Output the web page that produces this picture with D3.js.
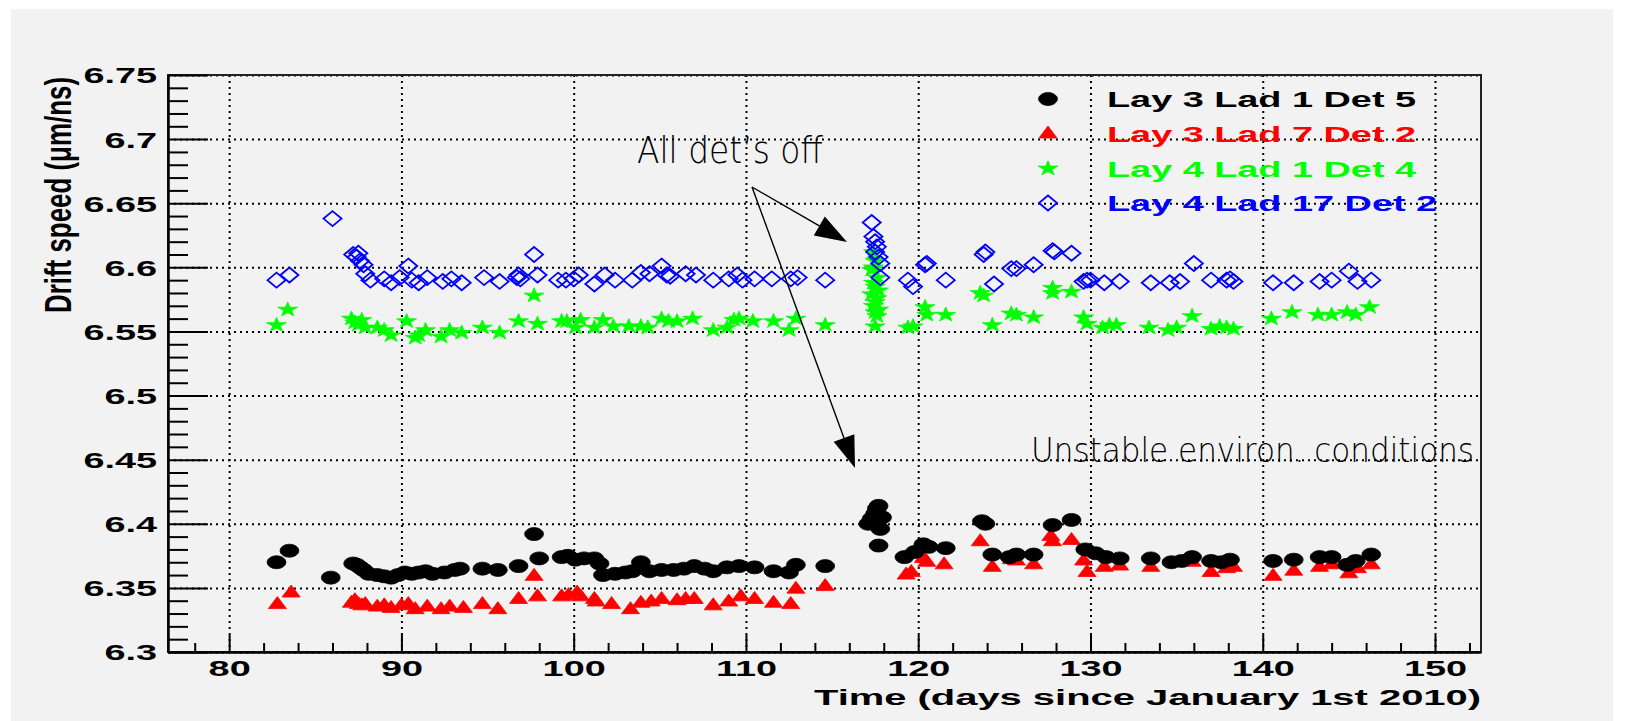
<!DOCTYPE html>
<html>
<head>
<meta charset="utf-8">
<script src="https://cdn.jsdelivr.net/npm/d3@7"></script>
<style>
  body { margin: 0; background: #ffffff; }
  svg text { font-family: "Liberation Sans", Arial, Helvetica, sans-serif; font-weight: bold; }
  .note { font-family: "DejaVu Sans", sans-serif !important; font-weight: 200 !important; }
</style>
</head>
<body>
<div id="scatter"></div>
<script>
// ---- data ----
var xTicks = [80, 90, 100, 110, 120, 130, 140, 150];
var yTicks = [6.3, 6.35, 6.4, 6.45, 6.5, 6.55, 6.6, 6.65, 6.7, 6.75];
var yLabels = ["6.3", "6.35", "6.4", "6.45", "6.5", "6.55", "6.6", "6.65", "6.7", "6.75"];

var seriesNames = ["Lay 3 Lad 1 Det 5", "Lay 3 Lad 7 Det 2", "Lay 4 Lad 1 Det 4", "Lay 4 Lad 17 Det 2"];
var seriesColors = ["#000000", "#ff0000", "#00ff00", "#0000ff"];

var blackDays = [82.75, 83.5, 85.9, 87.2, 87.4, 87.6, 87.8, 88.1, 88.6, 89.0, 89.4, 89.8, 90.2, 90.6, 91.0, 91.4, 91.8, 92.5, 93.1, 93.4,
  94.7, 95.6, 96.8, 97.7, 98.0, 99.3, 99.65, 100.1, 100.6, 101.2, 101.5, 101.7, 102.4, 103.0, 103.4, 103.9, 104.4, 105.1, 105.8, 106.4,
  107.0, 107.6, 108.1, 108.9, 109.6, 110.5, 111.6, 112.5, 112.9, 114.6, 117.1, 117.3, 117.5, 117.6, 117.7, 117.8, 117.9, 117.7,
  119.2, 119.8, 120.3, 120.6, 121.6, 123.7, 123.9, 124.3, 125.3, 125.7, 126.7, 127.8, 128.9, 129.7, 130.3, 130.9, 131.7, 133.5,
  134.7, 135.3, 135.9, 137.0, 137.6, 138.1, 140.6, 141.8, 143.3, 144.0, 144.9, 145.4, 146.3];
var blackVals = [6.370, 6.379, 6.358, 6.369, 6.368, 6.366, 6.364, 6.361, 6.360, 6.359, 6.358, 6.360, 6.362, 6.361, 6.362, 6.363, 6.361, 6.362, 6.364, 6.365,
  6.365, 6.364, 6.367, 6.392, 6.373, 6.374, 6.375, 6.372, 6.373, 6.373, 6.369, 6.360, 6.361, 6.362, 6.363, 6.370, 6.363, 6.364, 6.364, 6.365,
  6.367, 6.365, 6.363, 6.366, 6.367, 6.366, 6.363, 6.362, 6.368, 6.367, 6.400, 6.404, 6.408, 6.412, 6.414, 6.396, 6.405, 6.383,
  6.374, 6.378, 6.384, 6.382, 6.381, 6.402, 6.400, 6.376, 6.374, 6.376, 6.376, 6.399, 6.403, 6.380, 6.377, 6.374, 6.373, 6.373,
  6.370, 6.371, 6.374, 6.371, 6.370, 6.372, 6.371, 6.372, 6.374, 6.374, 6.368, 6.371, 6.376];

var redDays = [82.8, 83.6, 87.1, 87.3, 87.5, 87.7, 87.9, 88.6, 89.0, 89.4, 90.0, 90.4, 90.8, 91.5, 92.3, 92.8, 93.6, 94.7, 95.6, 96.8,
  97.7, 97.9, 99.3, 99.7, 100.2, 100.4, 101.2, 101.3, 102.2, 103.3, 103.9, 104.5, 105.1, 106.0, 106.5, 107.0, 108.1, 109.0, 109.7, 110.5,
  111.6, 112.6, 112.9, 114.6, 119.3, 119.6, 120.3, 120.5, 121.5, 123.6, 124.3, 125.4, 125.7, 126.7, 127.7, 127.8, 128.9, 129.6, 129.8,
  130.8, 131.7, 133.5, 135.9, 137.0, 137.9, 138.3, 140.6, 141.8, 143.3, 144.0, 145.0, 145.5, 146.3];
var redVals = [6.337, 6.346, 6.338, 6.340, 6.337, 6.336, 6.337, 6.335, 6.336, 6.334, 6.336, 6.337, 6.333, 6.335, 6.333, 6.335, 6.334, 6.337, 6.333, 6.341,
  6.359, 6.343, 6.343, 6.344, 6.346, 6.343, 6.341, 6.339, 6.337, 6.333, 6.338, 6.339, 6.341, 6.340, 6.341, 6.341, 6.336, 6.339, 6.343, 6.341,
  6.338, 6.337, 6.349, 6.351, 6.360, 6.362, 6.373, 6.370, 6.368, 6.386, 6.366, 6.372, 6.371, 6.368, 6.390, 6.386, 6.387, 6.371, 6.362,
  6.366, 6.367, 6.366, 6.370, 6.362, 6.365, 6.366, 6.359, 6.363, 6.366, 6.368, 6.361, 6.365, 6.368];

var greenDays = [82.75, 83.4, 87.1, 87.3, 87.5, 87.7, 87.9, 88.6, 89.0, 89.4, 90.3, 90.8, 91.0, 91.4, 92.3, 92.8, 93.5, 94.7, 95.7, 96.8,
  97.7, 97.9, 99.3, 99.6, 100.1, 100.4, 101.2, 101.7, 102.3, 103.2, 103.9, 104.3, 105.1, 105.5, 106.0, 106.9, 108.1, 108.9, 109.3, 109.6,
  110.4, 111.6, 112.5, 112.9, 114.6,
  117.4, 117.5, 117.3, 117.6, 117.4, 117.5, 117.7, 117.3, 117.6, 117.5, 117.4, 117.7, 117.5, 117.6, 117.5, 117.4,
  119.4, 119.7, 120.4, 120.5, 121.6, 123.6, 123.8, 124.3, 125.4, 125.7, 126.7, 127.8, 127.8, 128.9, 129.6, 129.8, 130.7, 131.1,
  131.5, 133.4, 134.5, 135.0, 135.9, 137.0, 137.5, 137.9, 138.3, 140.5, 141.7, 143.2, 144.0, 144.9, 145.4, 146.2];
var greenVals = [6.555, 6.567, 6.560, 6.557, 6.555, 6.559, 6.553, 6.553, 6.551, 6.547, 6.558, 6.545, 6.547, 6.551, 6.546, 6.551, 6.549, 6.553, 6.549, 6.558,
  6.578, 6.556, 6.558, 6.558, 6.553, 6.559, 6.553, 6.559, 6.554, 6.554, 6.554, 6.553, 6.560, 6.558, 6.558, 6.560, 6.551, 6.553, 6.559, 6.560,
  6.558, 6.558, 6.551, 6.560, 6.555,
  6.612, 6.605, 6.598, 6.592, 6.588, 6.585, 6.582, 6.579, 6.576, 6.573, 6.570, 6.567, 6.565, 6.562, 6.554, 6.600,
  6.553, 6.554, 6.569, 6.563, 6.563, 6.580, 6.578, 6.555, 6.564, 6.563, 6.561, 6.584, 6.580, 6.581, 6.561, 6.556, 6.553, 6.555,
  6.555, 6.553, 6.551, 6.553, 6.562, 6.552, 6.554, 6.553, 6.552, 6.560, 6.565, 6.563, 6.563, 6.565, 6.563, 6.569];

var blueDays = [82.75, 83.5, 86.0, 87.2, 87.4, 87.5, 87.6, 87.8, 87.9, 88.2, 89.0, 89.4, 89.9, 90.4, 90.6, 91.0, 91.5, 92.4, 92.9, 93.5,
  94.8, 95.7, 96.7, 96.8, 96.9, 97.7, 97.9, 99.1, 99.55, 100.0, 100.3, 101.2, 101.8, 102.4, 103.4, 103.9, 104.4, 105.1, 105.4, 105.6,
  106.5, 107.1, 108.1, 109.0, 109.5, 109.8, 110.5, 111.5, 112.6, 113.0, 114.6,
  117.3, 117.4, 117.5, 117.6, 117.5, 117.7, 117.8, 117.8,
  119.4, 119.7, 120.4, 120.5, 121.6, 123.8, 123.9, 124.4, 125.4, 125.7, 126.7, 127.8, 127.9, 128.9, 129.6, 129.8, 130.0, 130.8,
  131.7, 133.5, 134.6, 135.2, 136.0, 137.0, 137.9, 138.1, 138.3, 140.6, 141.8, 143.3, 144.0, 145.0, 145.5, 146.3];
var blueVals = [6.590, 6.594, 6.638, 6.610, 6.608, 6.611, 6.605, 6.602, 6.595, 6.590, 6.591, 6.588, 6.592, 6.601, 6.590, 6.588, 6.592, 6.589, 6.591, 6.588,
  6.592, 6.589, 6.592, 6.594, 6.591, 6.610, 6.594, 6.590, 6.590, 6.591, 6.594, 6.587, 6.594, 6.590, 6.590, 6.596, 6.595, 6.601, 6.594, 6.593,
  6.595, 6.594, 6.590, 6.591, 6.594, 6.590, 6.591, 6.591, 6.591, 6.592, 6.590,
  6.635, 6.624, 6.620, 6.616, 6.612, 6.608, 6.603, 6.592,
  6.590, 6.585, 6.602, 6.603, 6.590, 6.610, 6.612, 6.587, 6.599, 6.599, 6.602, 6.613, 6.612, 6.611, 6.589, 6.590, 6.590, 6.588,
  6.589, 6.588, 6.588, 6.589, 6.603, 6.590, 6.590, 6.591, 6.589, 6.588, 6.588, 6.589, 6.590, 6.597, 6.589, 6.590];

// ---- layout ----
var svgWidth = 1637;
var svgHeight = 721;

var margin = {
  top: 75,
  right: 156,
  bottom: 69,
  left: 168
};

var width = svgWidth - margin.left - margin.right;
var height = svgHeight - margin.top - margin.bottom;

// the original picture was stretched sideways, so the text is too
var SX = 1.72;
var fontSize = 22;

var svg = d3
  .select("#scatter")
  .append("svg")
  .attr("width", svgWidth)
  .attr("height", svgHeight);

// canvas background
svg.append("rect")
  .attr("x", 11)
  .attr("y", 9)
  .attr("width", 1602)
  .attr("height", svgHeight - 9)
  .attr("fill", "#f2f2f2");

var chartGroup = svg.append("g")
  .attr("transform", `translate(${margin.left}, ${margin.top})`);

var xLinearScale = d3.scaleLinear()
  .domain([76.45, 152.67])
  .range([0, width]);

var yLinearScale = d3.scaleLinear()
  .domain([6.3, 6.75])
  .range([height, 0]);

// dotted grid
var xGrid = chartGroup.append("g")
  .call(d3.axisBottom(xLinearScale).tickValues(xTicks).tickSize(height).tickFormat(""));
var yGrid = chartGroup.append("g")
  .call(d3.axisLeft(yLinearScale).tickValues(yTicks).tickSize(-width).tickFormat(""));
[xGrid, yGrid].forEach(function(g) {
  g.select(".domain").remove();
  g.selectAll("line")
    .attr("stroke", "#000")
    .attr("stroke-width", 2)
    .attr("stroke-dasharray", "2,4");
});

// frame
chartGroup.append("rect")
  .attr("x", 0)
  .attr("y", 0)
  .attr("width", width)
  .attr("height", height)
  .attr("fill", "none")
  .attr("stroke", "#222")
  .attr("stroke-width", 2);

// minor ticks
var xMinor = d3.range(78, 153, 2).filter(d => d % 10 !== 0);
var yMinor = d3.range(6.3, 6.7501, 0.01).filter(d => Math.abs(Math.round(d * 20) - d * 20) > 0.01);

chartGroup.append("g")
  .attr("transform", `translate(0, ${height})`)
  .call(d3.axisBottom(xLinearScale).tickValues(xMinor).tickSize(-9).tickSizeOuter(0).tickFormat(""))
  .call(g => g.select(".domain").remove())
  .selectAll("line").attr("stroke-width", 2);

chartGroup.append("g")
  .call(d3.axisLeft(yLinearScale).tickValues(yMinor).tickSize(-20).tickSizeOuter(0).tickFormat(""))
  .call(g => g.select(".domain").remove())
  .selectAll("line").attr("stroke-width", 2);

// major axes
var bottomAxis = d3.axisBottom(xLinearScale)
  .tickValues(xTicks)
  .tickSize(-17)
  .tickSizeOuter(0)
  .tickPadding(8);

var leftAxis = d3.axisLeft(yLinearScale)
  .tickValues(yTicks)
  .tickSize(-40)
  .tickSizeOuter(0)
  .tickFormat((d, i) => yLabels[i]);

var xAxis = chartGroup.append("g")
  .attr("transform", `translate(0, ${height})`)
  .call(bottomAxis)
  .attr("font-size", fontSize)
  .attr("font-family", null);

var yAxis = chartGroup.append("g")
  .call(leftAxis)
  .attr("font-size", fontSize)
  .attr("font-family", null);

[xAxis, yAxis].forEach(function(g) {
  g.select(".domain").attr("stroke-width", 2.5);
  g.selectAll("line").attr("stroke-width", 2);
});

xAxis.selectAll("text")
  .attr("fill", "#000")
  .attr("transform", `scale(${SX},1)`);

yAxis.selectAll("text")
  .attr("fill", "#000")
  .attr("x", -11 / SX)
  .attr("dy", "0.36em")
  .attr("transform", `scale(${SX},1)`);

// axis titles
svg.append("text")
  .attr("transform", `translate(${margin.left + width}, 705) scale(${SX},1)`)
  .attr("text-anchor", "end")
  .attr("font-size", fontSize)
  .attr("textLength", 667 / SX)
  .attr("lengthAdjust", "spacingAndGlyphs")
  .text("Time (days since January 1st 2010)");

svg.append("text")
  .attr("transform", `translate(71, 77) scale(${SX},1) rotate(-90)`)
  .attr("text-anchor", "end")
  .attr("font-size", fontSize)
  .attr("textLength", 236)
  .attr("lengthAdjust", "spacingAndGlyphs")
  .text("Drift speed (\u03bcm/ns)");

// marker shapes, stretched sideways like the picture
var diamondType = {
  draw: function(context, size) {
    var r = Math.sqrt(size) / 2;
    context.moveTo(0, -r);
    context.lineTo(r, 0);
    context.lineTo(0, r);
    context.lineTo(-r, 0);
    context.closePath();
  }
};

var markers = [
  { sym: d3.symbol().type(d3.symbolCircle).size(Math.PI * 6.5 * 6.5), sx: 1.45, fill: true },
  { sym: d3.symbol().type(d3.symbolTriangle).size(83), sx: 1.3, fill: true },
  { sym: d3.symbol().type(d3.symbolStar).size(67), sx: 1.36, fill: true },
  { sym: d3.symbol().type(diamondType).size(225), sx: 1.2, fill: false }
];

var allSeries = [
  { days: blackDays, vals: blackVals },
  { days: redDays, vals: redVals },
  { days: greenDays, vals: greenVals },
  { days: blueDays, vals: blueVals }
];

function styleMarker(sel, i) {
  var m = markers[i];
  sel.attr("d", m.sym())
    .attr("fill", m.fill ? seriesColors[i] : "none")
    .attr("stroke", seriesColors[i])
    .attr("stroke-width", m.fill ? 0.8 : 1.8)
    .attr("vector-effect", "non-scaling-stroke");
}

// draw order: green, blue, red, black like the picture
[2, 3, 1, 0].forEach(function(i) {
  var s = allSeries[i];
  var pts = s.days.map((d, k) => ({ day: d, val: s.vals[k] }));
  chartGroup.append("g")
    .selectAll("path")
    .data(pts)
    .enter()
    .append("path")
    .attr("transform", d => `translate(${xLinearScale(d.day)}, ${yLinearScale(d.val)}) scale(${markers[i].sx},1)`)
    .call(styleMarker, i);
});

// legend (no box, grid shows through)
var legendRows = [99, 134, 168.5, 203];
var legend = svg.append("g");
seriesNames.forEach(function(name, i) {
  legend.append("path")
    .attr("transform", `translate(1048, ${legendRows[i]}) scale(${markers[i].sx},1)`)
    .call(styleMarker, i);
  legend.append("text")
    .attr("transform", `translate(1107, ${legendRows[i] + 8}) scale(${SX},1)`)
    .attr("font-size", fontSize)
    .attr("fill", seriesColors[i])
    .text(name);
});

// hand-written notes and arrows
svg.append("text")
  .attr("class", "note")
  .attr("x", 637)
  .attr("y", 163)
  .attr("font-size", 38)
  .attr("textLength", 186)
  .attr("lengthAdjust", "spacingAndGlyphs")
  .text("All det\u2019s off");

svg.append("text")
  .attr("class", "note")
  .attr("x", 1031)
  .attr("y", 462)
  .attr("font-size", 34)
  .attr("textLength", 443)
  .attr("lengthAdjust", "spacingAndGlyphs")
  .text("Unstable environ. conditions");

var arrowStart = [752, 187];
var arrowTips = [[847, 242], [855, 468]];
arrowTips.forEach(function(tip) {
  var dx = tip[0] - arrowStart[0];
  var dy = tip[1] - arrowStart[1];
  var len = Math.sqrt(dx * dx + dy * dy);
  var ux = dx / len, uy = dy / len;
  var bx = tip[0] - ux * 32, by = tip[1] - uy * 32;
  svg.append("line")
    .attr("x1", arrowStart[0])
    .attr("y1", arrowStart[1])
    .attr("x2", bx)
    .attr("y2", by)
    .attr("stroke", "#000")
    .attr("stroke-width", 1.4);
  svg.append("path")
    .attr("d", d3.line()([[tip[0], tip[1]], [bx - uy * 11, by + ux * 11], [bx + uy * 11, by - ux * 11]]) + "Z")
    .attr("fill", "#000");
});
</script>
</body>
</html>
